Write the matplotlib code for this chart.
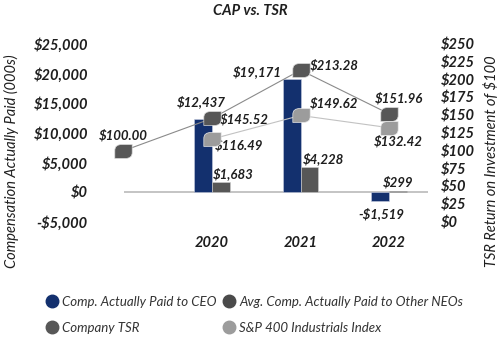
import matplotlib.pyplot as plt
from matplotlib.path import Path
from matplotlib.lines import Line2D

years = ["2020", "2021", "2022"]
ceo_cap = [12437, 19171, -1519]
neo_cap = [1683, 4228, 299]
tsr_years = ["2019", "2020", "2021", "2022"]
company_tsr = [100.00, 145.52, 213.28, 151.96]
sp400_tsr = [116.49, 149.62, 132.42]

left_ticks = [-5000, 0, 5000, 10000, 15000, 20000, 25000]
right_ticks = [0, 25, 50, 75, 100, 125, 150, 175, 200, 225, 250]

navy = "#13306e"
dark = "#575757"
light = "#9c9c9c"
txt = "#1e1e1e"

plt.rcParams["font.family"] = ["Lato", "DejaVu Sans"]

# leaf-shaped marker: sharp bottom-left / top-right corners, rounded others
verts = [(-1, -0.8), (-1, 0.1), (-1, 0.6), (-0.7, 0.8), (-0.2, 0.8),
         (1, 0.8), (1, -0.1), (1, -0.6), (0.7, -0.8), (0.2, -0.8), (-1, -0.8)]
codes = [Path.MOVETO, Path.LINETO, Path.CURVE4, Path.CURVE4, Path.CURVE4,
         Path.LINETO, Path.LINETO, Path.CURVE4, Path.CURVE4, Path.CURVE4, Path.CLOSEPOLY]
leaf = Path(verts, codes)

fig = plt.figure(figsize=(5, 3.41), dpi=100)
ax = fig.add_axes([0.248, 0.349, 0.608, 0.522])
ax2 = ax.twinx()

x = [1, 2, 3]
w = 0.2
ax.bar([i - w / 2 for i in x], ceo_cap, w, color=navy, edgecolor="#c8cde0", linewidth=0.4, zorder=2)
neo_colors = [dark, dark, "#111111"]
ax.bar([i + w / 2 for i in x], neo_cap, w, color=neo_colors, edgecolor="#d0d0d0", linewidth=0.4, zorder=2)
ax.axhline(0, color="#c4c4c4", lw=1.4, zorder=1)

ax.set_xlim(0.006, 3.44)
ax.set_ylim(-5000, 25000)
ax2.set_ylim(0, 250)

tx = [0, 1, 2, 3]
ax2.plot(tx, company_tsr, color="#8a8a8a", lw=0.8, zorder=3, clip_on=False)
ax2.plot(tx[1:], sp400_tsr, color="#c2c2c2", lw=0.8, zorder=3)
ax2.plot(tx, company_tsr, ls="none", marker=leaf, ms=12.5, color=dark, mec="#d8d8d8", mew=0.5,
         zorder=4, clip_on=False)
ax2.plot(tx[1:], sp400_tsr, ls="none", marker=leaf, ms=12.5, color=light, mec="#e8e8e8", mew=0.5,
         zorder=4)

ax.set_yticks(left_ticks)
ax.set_yticklabels([f"${v:,}" if v >= 0 else f"-${-v:,}" for v in left_ticks])
ax2.set_yticks(right_ticks)
ax2.set_yticklabels([f"${v}" for v in right_ticks])
ax.set_xticks(x)
ax.set_xticklabels(years)

for a in (ax, ax2):
    for s in a.spines.values():
        s.set_visible(False)
    a.tick_params(length=0, colors=txt)
    for lab in a.get_xticklabels() + a.get_yticklabels():
        lab.set_fontweight("bold")
        lab.set_fontstyle("italic")
        lab.set_fontsize(10.5)
ax.tick_params(axis="y", pad=26)
ax2.tick_params(axis="y", pad=9)
ax.tick_params(axis="x", pad=10)

fig.text(11 / 500, 1 - 161 / 341, "Compensation Actually Paid (000s)", rotation=90,
         ha="center", va="center", fontsize=10.5, style="italic", color=txt)
fig.text(491 / 500, 1 - 161 / 341, "TSR Return on Investment of $100", rotation=90,
         ha="center", va="center", fontsize=10.5, style="italic", color=txt)

fig.text(0.5, 0.968, "CAP vs. TSR", ha="center", va="center", fontsize=10.5,
         weight="bold", style="italic", color=txt)

lab = dict(fontsize=9.5, weight="bold", style="italic", color=txt, textcoords="offset points",
           va="center", annotation_clip=False)
# bar values
ax.annotate("$12,437", (1 - w / 2, ceo_cap[0]), xytext=(-1.5, 12), ha="center", **lab)
ax.annotate("$19,171", (2 - w / 2, ceo_cap[1]), xytext=(-25, 5), ha="center", **lab)
ax.annotate("-$1,519", (3 - w / 2, ceo_cap[2]), xytext=(1, -8.6), ha="center", **lab)
ax.annotate("$1,683", (1 + w / 2, neo_cap[0]), xytext=(8.6, 6.5), ha="center", **lab)
ax.annotate("$4,228", (2 + w / 2, neo_cap[1]), xytext=(10, 6.5), ha="center", **lab)
ax.annotate("$299", (3 + w / 2, neo_cap[2]), xytext=(0.5, 6), ha="center", **lab)
# TSR values
ax2.annotate("$100.00", (0, company_tsr[0]), xytext=(0, 11.5), ha="center", **lab)
ax2.annotate("$145.52", (1, company_tsr[1]), xytext=(6, -0.7), ha="left", **lab)
ax2.annotate("$213.28", (2, company_tsr[2]), xytext=(6.5, 3.5), ha="left", **lab)
ax2.annotate("$151.96", (3, company_tsr[3]), xytext=(7, 11.5), ha="center", **lab)
ax2.annotate("$116.49", (1, sp400_tsr[0]), xytext=(2, -4.5), ha="left", **lab)
ax2.annotate("$149.62", (2, sp400_tsr[1]), xytext=(6.5, 9), ha="left", **lab)
ax2.annotate("$132.42", (3, sp400_tsr[2]), xytext=(7, -9.5), ha="center", **lab)

handles = [
    Line2D([], [], ls="none", marker="o", ms=9, color=navy),
    Line2D([], [], ls="none", marker="o", ms=9, color=dark),
    Line2D([], [], ls="none", marker="o", ms=9, color="#4a4a4a"),
    Line2D([], [], ls="none", marker="o", ms=9, color=light),
]
names = ["Comp. Actually Paid to CEO", "Company TSR",
         "Avg. Comp. Actually Paid to Other NEOs", "S&P 400 Industrials Index"]
leg = fig.legend(handles, names, ncol=2, loc="upper left", bbox_to_anchor=(0.09, 0.132),
                 frameon=False, handletextpad=0.3, columnspacing=0.4, labelspacing=1.05,
                 handlelength=1.0, borderaxespad=0, borderpad=0,
                 prop=dict(family=["Lato", "DejaVu Sans"], style="italic", size=9.5))
for t in leg.get_texts():
    t.set_color("#333333")

fig.savefig("out.png", dpi=100)
